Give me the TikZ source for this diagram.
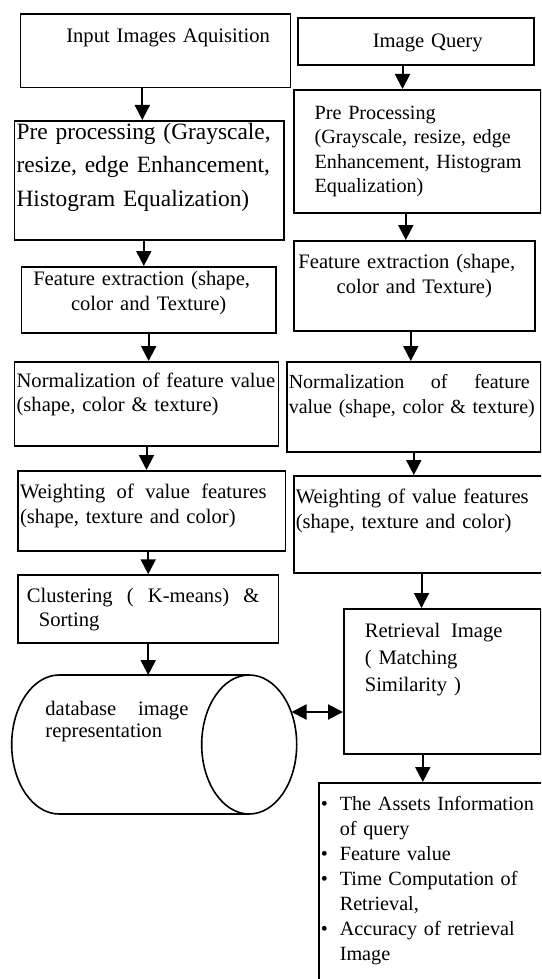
\documentclass[tikz,border=0pt]{standalone}
\usepackage{fontspec}
\setmainfont{Liberation Serif}
\usetikzlibrary{shapes.geometric, arrows, arrows.meta, positioning}

\begin{document}
\begin{tikzpicture}[x=0.5pt, y=-0.5pt,
    block/.style={rectangle, draw, line width=0.8pt, anchor=north west, align=left, inner xsep=1pt, inner ysep=0pt, font=\fontsize{10.3}{12.3}\selectfont},
    drum/.style={line width=0.8pt},
    arrow/.style={line width=1pt,->,>={Triangle[width=7.5pt,length=7.5pt]}},
    twoway/.style={arrow,<->}]
    \clip (0,0) rectangle (541,979);

    % left column: building the image database
    \node [block, text width=133pt, text height=14.1pt, text depth=22.6pt] (input) at (19.7,13.3)
        {\hspace*{21.9pt}Input Images Aquisition};
    \node [block, text width=132.8pt, text height=9.15pt, text depth=50.35pt, font=\fontsize{11.7}{16.75}\selectfont] (prepdb) at (13.8,120)
        {Pre processing (Grayscale,\\resize, edge Enhancement,\\Histogram Equalization)};
    \node [block, align=center, text width=125.15pt, text height=9.5pt, text depth=23.65pt] (featdb) at (20.7,266)
        {Feature extraction (shape,\hspace*{7pt}\mbox{}\\color and Texture)};
    \node [block, text width=129.9pt, text height=12.75pt, text depth=29.25pt] (normdb) at (13.8,361)
        {\mbox{Normalization of feature value}\\\mbox{(shape, color \& texture)}};
    \node [block, text width=131.65pt, text height=14pt, text depth=26pt] (weightdb) at (17.2,470)
        {\makebox[123.25pt][s]{Weighting \hfill of \hfill value \hfill features}\\\mbox{(shape, texture and color)}};
    \node [block, text width=128.2pt, text height=13.6pt, text depth=20.4pt] (cluster) at (17.2,574.3)
        {\hspace*{3.4pt}\makebox[116.3pt][s]{Clustering \hfill ( \hfill K-means) \hfill \&}\\\hspace*{9.4pt}Sorting};

    % database drum
    \coordinate (dbtop) at (148.3,675);
    \coordinate (dbside) at (291.5,712);
    \draw [drum] (249.2,675) -- (59.2,675) arc [start angle=270, end angle=90, x radius=47.5, y radius=69.5] -- (249.2,814);
    \draw [drum] (249.2,744.5) ellipse [x radius=47.5, y radius=69.5];
    \node [anchor=north west, align=left, inner sep=0pt, text width=80pt, text height=8pt, font=\fontsize{10.3}{11}\selectfont] (dbtext) at (45,699)
        {\makebox[71.5pt][s]{database \hfill image}\\representation};

    % right column: the query
    \node [block, text width=116pt, text height=14.75pt, text depth=8.75pt] (query) at (297,17)
        {\hspace*{36.5pt}Image Query};
    \node [block, text width=121.5pt, text height=14.75pt, text depth=46.75pt, font=\fontsize{10.1}{12.2}\selectfont] (prepq) at (293,89)
        {\hspace*{9.4pt}Pre Processing\\\hspace*{9.4pt}(Grayscale, resize, edge\\\hspace*{9.4pt}\mbox{Enhancement, Histogram}\\\hspace*{9.4pt}Equalization)};
    \node [block, align=center, text width=118.5pt, text height=14pt, text depth=31pt] (featq) at (293,240)
        {Feature extraction (shape,\hspace*{7.5pt}\mbox{}\\color and Texture)};
    \node [block, text width=125pt, text height=13.5pt, text depth=31.5pt, font=\fontsize{10}{12.5}\selectfont] (normq) at (286,361)
        {\makebox[120.5pt][s]{Normalization \hfill of \hfill feature}\\\mbox{value (shape, color \& texture)}};
    \node [block, text width=131.5pt, text height=14pt, text depth=34.5pt] (weightq) at (293,475)
        {Weighting of value features\\(shape, texture and color)};
    \node [block, text width=96.5pt, text height=14.5pt, text depth=58pt, font=\fontsize{10.3}{13.5}\selectfont] (retrieval) at (343,608)
        {\hspace*{9.5pt}\makebox[68.85pt][s]{Retrieval \hfill Image}\\\hspace*{9.5pt}( Matching\\\hspace*{9.5pt}Similarity )};
    \node [block, text width=123pt, text height=14pt, text depth=100pt, font=\fontsize{10.1}{12.5}\selectfont] (result) at (318,782)
        {\makebox[9.5pt][l]{\textbullet}\mbox{The Assets Information}\\
         \hspace*{9.5pt}of query\\
         \makebox[9.5pt][l]{\textbullet}Feature value\\
         \makebox[9.5pt][l]{\textbullet}Time Computation of\\
         \hspace*{9.5pt}Retrieval,\\
         \makebox[9.5pt][l]{\textbullet}Accuracy of retrieval\\
         \hspace*{9.5pt}Image};

    \draw [arrow] ([xshift=-6.6pt]input.south) -- ([xshift=-6.6pt]input.south |- prepdb.north);
    \draw [arrow] ([xshift=-2.8pt]prepdb.south) -- ([xshift=-2.8pt]prepdb.south |- featdb.north);
    \draw [arrow] (featdb.south) -- (featdb.south |- normdb.north);
    \draw [arrow] (normdb.south) -- (normdb.south |- weightdb.north);
    \draw [arrow] (cluster.north |- weightdb.south) -- (cluster.north);
    \draw [arrow] (cluster.south) -- (cluster.south |- dbtop);

    \draw [arrow] ([xshift=-6.65pt]query.south) -- ([xshift=-6.65pt]query.south |- prepq.north);
    \draw [arrow] ([xshift=-5.75pt]prepq.south) -- ([xshift=-5.75pt]prepq.south |- featq.north);
    \draw [arrow] ([xshift=-1.75pt]featq.south) -- ([xshift=-1.75pt]featq.south |- normq.north);
    \draw [arrow] (normq.south) -- (normq.south |- weightq.north);
    \draw [arrow] ([xshift=-10.4pt]retrieval.north |- weightq.south) -- ([xshift=-10.4pt]retrieval.north);
    \draw [arrow] ([xshift=-9.75pt]retrieval.south) -- ([xshift=-9.75pt]retrieval.south |- result.north);

    \draw [twoway] (dbside) -- (dbside -| retrieval.west);
\end{tikzpicture}
\end{document}
